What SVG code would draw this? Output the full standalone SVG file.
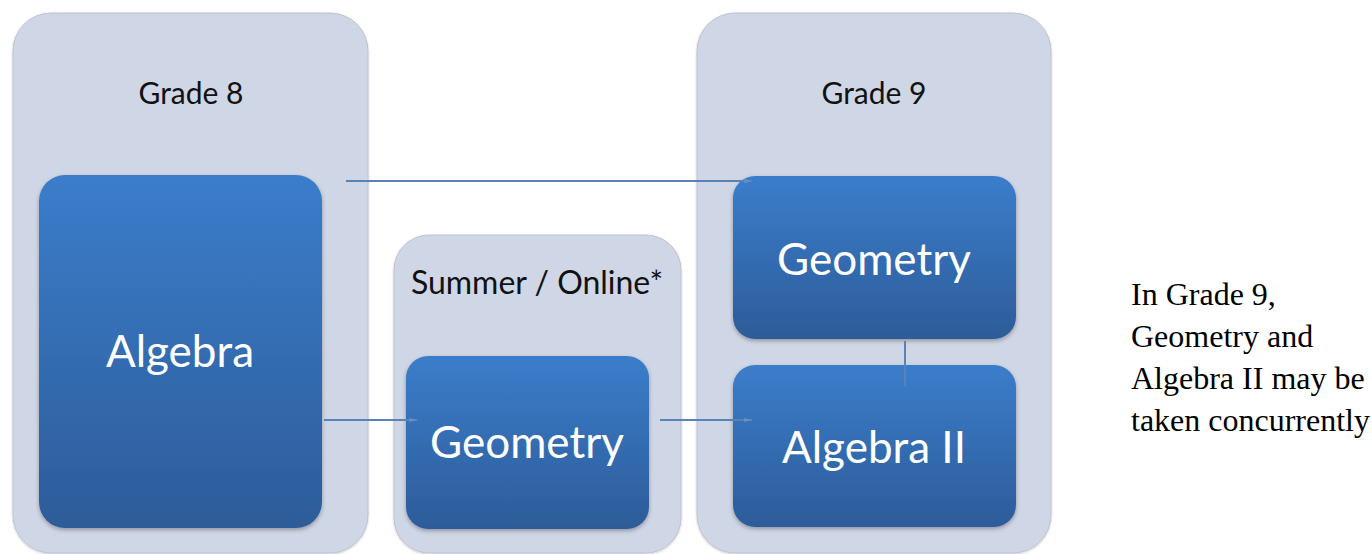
<svg xmlns="http://www.w3.org/2000/svg" width="1372" height="554" viewBox="0 0 1372 554">
<defs>
<linearGradient id="blue" x1="0" y1="0" x2="0" y2="1">
<stop offset="0" stop-color="#3B7DCB"/>
<stop offset="1" stop-color="#2D5C99"/>
</linearGradient>
<filter id="sh" x="-10%" y="-10%" width="120%" height="125%">
<feDropShadow dx="0" dy="2" stdDeviation="2" flood-color="#000" flood-opacity="0.3"/>
</filter>
<filter id="psh" x="-5%" y="-5%" width="110%" height="110%">
<feDropShadow dx="0" dy="1" stdDeviation="1" flood-color="#000" flood-opacity="0.2"/>
</filter>
<marker id="arr" viewBox="0 0 10 10" refX="10" refY="5" markerWidth="4" markerHeight="4" orient="auto">
<path d="M0,2 L10,5 L0,8 z" fill="#7C9CC8" opacity="0.45"/>
</marker>
<style>
.panel{fill:#CFD6E5;stroke:#BCC3D0;stroke-width:1;filter:url(#psh)}
.box{fill:url(#blue);filter:url(#sh)}
.hdr{font-family:Lato,"Open Sans",sans-serif;font-size:30px;fill:#111;text-anchor:middle}
.lbl{font-family:Lato,"Open Sans",sans-serif;font-size:44px;fill:#fff;text-anchor:middle}
.conn{stroke:#5A82B8;stroke-width:2;fill:none}
.note{font-family:"Liberation Serif","Times New Roman",serif;font-size:32px;fill:#000}
</style>
</defs>
<g id="grade8">
<rect class="panel" x="13" y="13" width="355" height="540" rx="38"/>
<text class="hdr" x="191" y="104">Grade 8</text>
</g>
<g id="summer">
<rect class="panel" x="394" y="235" width="287" height="318" rx="35"/>
<text class="hdr" x="537" y="294" style="font-size:32px">Summer / Online*</text>
</g>
<g id="grade9">
<rect class="panel" x="697" y="13" width="354" height="540" rx="38"/>
<text class="hdr" x="874" y="104">Grade 9</text>
</g>
<g id="algebra">
<rect class="box" x="39" y="175" width="283" height="353" rx="26"/>
<text class="lbl" x="180" y="367">Algebra</text>
</g>
<g id="geometry-summer">
<rect class="box" x="406" y="356" width="243" height="173" rx="22"/>
<text class="lbl" x="527" y="458">Geometry</text>
</g>
<g id="geometry-g9">
<rect class="box" x="733" y="176" width="283" height="163" rx="22"/>
<text class="lbl" x="874" y="275">Geometry</text>
</g>
<g id="algebra2">
<rect class="box" x="733" y="365" width="283" height="162" rx="22"/>
<text class="lbl" x="874" y="463">Algebra II</text>
</g>
<g id="connectors">
<line class="conn" x1="346" y1="181" x2="752" y2="181" marker-end="url(#arr)"/>
<line class="conn" x1="324" y1="420" x2="417" y2="420" marker-end="url(#arr)"/>
<line class="conn" x1="660" y1="420" x2="752" y2="420" marker-end="url(#arr)"/>
<line class="conn" x1="905" y1="341" x2="905" y2="386"/>
</g>
<g id="note">
<text class="note" x="1131" y="305">In Grade 9,</text>
<text class="note" x="1131" y="347">Geometry and</text>
<text class="note" x="1131" y="389">Algebra II may be</text>
<text class="note" x="1131" y="431">taken concurrently</text>
</g>
</svg>
